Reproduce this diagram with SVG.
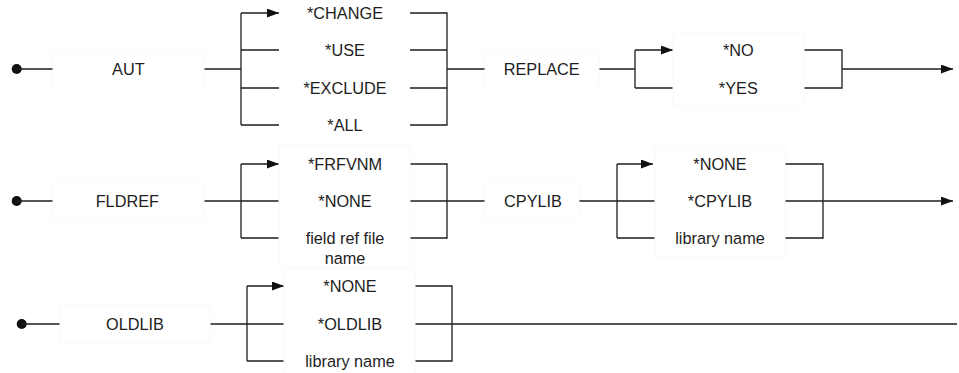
<svg xmlns="http://www.w3.org/2000/svg" width="959" height="373" viewBox="0 0 959 373">
<style>
.ln{fill:none;stroke:#1e1e1e;stroke-width:1.3}
.bx{fill:none;stroke:#fafafa;stroke-width:1}
text{font-family:"Liberation Sans",Arial,sans-serif;font-size:16.3px;fill:#1e1e1e;text-anchor:middle}
.dot{fill:#111}
</style>
<defs>
<marker id="ar" markerUnits="userSpaceOnUse" markerWidth="13" markerHeight="10" refX="12" refY="4.5" orient="auto">
<path d="M0,0 L12,4.5 L0,9 z" fill="#111"/>
</marker>
</defs>

<g id="connectors">
<circle class="dot" cx="16.7" cy="69" r="5"/>
<path class="ln" d="M16.7,69 H53"/>
<path class="ln" d="M204,69 H241"/>
<path class="ln" d="M241,13 V125"/>
<path class="ln" d="M241,13 H279" marker-end="url(#ar)"/>
<path class="ln" d="M241,50 H279 M241,88 H279 M241,125 H279"/>
<path class="ln" d="M410,13 H447 V125 H410 M410,50 H447 M410,88 H447 M447,69 H485"/>
<path class="ln" d="M599,69 H635 M635,50 V88 M635,88 H673"/>
<path class="ln" d="M635,50 H673" marker-end="url(#ar)"/>
<path class="ln" d="M804,50 H842 V88 H804"/>
<path class="ln" d="M842,69 H953" marker-end="url(#ar)"/>

<circle class="dot" cx="16.7" cy="201" r="5"/>
<path class="ln" d="M16.7,201 H53"/>
<path class="ln" d="M204,201 H279 M241,164 V238 M241,238 H279"/>
<path class="ln" d="M241,164 H279" marker-end="url(#ar)"/>
<path class="ln" d="M410,164 H447 V238 H410 M410,201 H485"/>
<path class="ln" d="M579,201 H655 M617,164 V238 M617,238 H655"/>
<path class="ln" d="M617,164 H653" marker-end="url(#ar)"/>
<path class="ln" d="M785,164 H823 V238 H785"/>
<path class="ln" d="M785,201 H953" marker-end="url(#ar)"/>

<circle class="dot" cx="21.7" cy="324" r="5"/>
<path class="ln" d="M21.7,324 H60"/>
<path class="ln" d="M210,324 H284 M247,286 V361 M247,361 H284"/>
<path class="ln" d="M247,286 H284" marker-end="url(#ar)"/>
<path class="ln" d="M415,286 H452 V361 H415 M415,324 H957"/>
</g>

<g id="aut"><rect class="bx" x="53" y="50" width="151" height="38"/><text x="128.3" y="75">AUT</text></g>
<g id="aut-opts">
<text x="345" y="19">*CHANGE</text>
<text x="345" y="56">*USE</text>
<text x="345" y="94">*EXCLUDE</text>
<text x="345" y="131">*ALL</text>
</g>
<g id="replace"><rect class="bx" x="485" y="50" width="114" height="38"/><text x="541.7" y="75">REPLACE</text></g>
<g id="replace-opts"><rect class="bx" x="673" y="33" width="131" height="73"/>
<text x="738.3" y="56">*NO</text>
<text x="738.3" y="94">*YES</text>
</g>

<g id="fldref"><rect class="bx" x="53" y="182" width="151" height="38"/><text x="127.3" y="207">FLDREF</text></g>
<g id="fldref-opts"><rect class="bx" x="279" y="145" width="131" height="122"/>
<text x="345" y="244">field ref file</text>
<text x="345" y="170">*FRFVNM</text>
<text x="345" y="207">*NONE</text>
<text x="345" y="264">name</text>
</g>
<g id="cpylib"><rect class="bx" x="485" y="182" width="94" height="38"/><text x="533" y="207">CPYLIB</text></g>
<g id="cpylib-opts"><rect class="bx" x="655" y="146" width="130" height="111"/>
<text x="720" y="170">*NONE</text>
<text x="720" y="207">*CPYLIB</text>
<text x="720" y="244">library name</text>
</g>

<g id="oldlib"><rect class="bx" x="60" y="305" width="150" height="38"/><text x="135" y="330">OLDLIB</text></g>
<g id="oldlib-opts"><rect class="bx" x="284" y="268" width="131" height="111"/>
<text x="350" y="292">*NONE</text>
<text x="350" y="330">*OLDLIB</text>
<text x="350" y="367">library name</text>
</g>
</svg>
